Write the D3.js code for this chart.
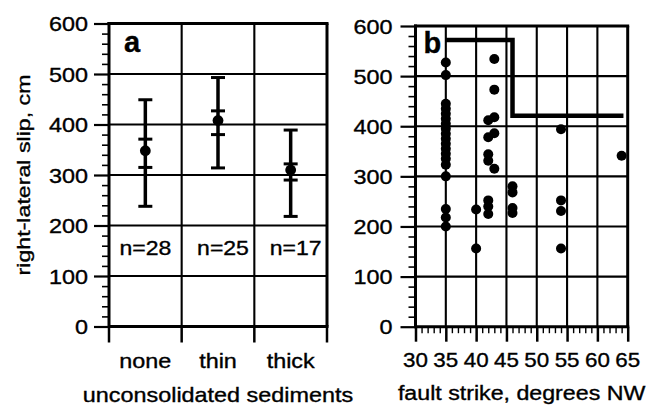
<!DOCTYPE html>
<html>
<head>
<meta charset="utf-8">
<script src="https://cdn.jsdelivr.net/npm/d3@7"></script>
<style>
  body { margin: 0; background: #fff; }
  svg { display: block; background: #fff; }
  text { font-family: "Liberation Sans", Arial, Helvetica, sans-serif; fill: #000; stroke: #000; stroke-width: 0.35px; }
</style>
</head>
<body>
<svg id="chart" width="657" height="407"></svg>
<script>
// ---- Panel a: slip by sediment cover ----
const categories = ["none", "thin", "thick"];
const sampleSizes = [28, 25, 17];
const meanSlip = [348, 408, 310];
const innerLow = [315, 380, 290];
const innerHigh = [371, 427, 322];
const outerLow = [238, 314, 218];
const outerHigh = [449, 493, 389];

// ---- Shared / axis ticks ----
const slipTicks = [0, 100, 200, 300, 400, 500, 600];
const strikeTicks = [30, 35, 40, 45, 50, 55, 60, 65];

// ---- Panel b: slip vs fault strike ----
const strikeValues = [
  35, 35, 35, 35, 35, 35, 35, 35, 35, 35, 35, 35, 35, 35, 35, 35, 35, 35, 35,
  40, 40,
  42, 42, 42, 42, 42, 42, 42,
  43, 43, 43, 43, 43,
  46, 46, 46, 46,
  54, 54, 54, 54,
  64
];
const slipValues = [
  527, 502, 445, 435, 425, 415, 405, 395, 385, 375, 365, 355, 345, 335, 323, 300, 235, 218, 200,
  234, 156,
  412, 378, 344, 331, 252, 240, 225,
  534, 473, 418, 386, 315,
  280, 268, 237, 227,
  394, 252, 231, 156,
  341
];

// upper-bound envelope drawn over the scatter
const envelopeStrike = [35, 46, 46, 64.3];
const envelopeSlip = [572, 572, 421, 421];

const svg = d3.select("#chart");
svg.append("rect").attr("width", 657).attr("height", 407).attr("fill", "#fff");

const FONT = 20;

function addText(parent, x, y, txt, opt = {}) {
  const sx = opt.sx ?? 1.16;
  const rot = opt.rotate ?? 0;
  return parent.append("text")
    .attr("transform", `translate(${x},${y}) rotate(${rot}) scale(${sx},1)`)
    .attr("text-anchor", opt.anchor ?? "middle")
    .style("font-size", (opt.size ?? FONT) + "px")
    .style("font-weight", opt.weight ?? "normal")
    .text(txt);
}

function hline(g, x1, x2, y, w) {
  g.append("line").attr("x1", x1).attr("x2", x2).attr("y1", y).attr("y2", y)
    .attr("stroke", "#000").attr("stroke-width", w);
}
function vline(g, x, y1, y2, w) {
  g.append("line").attr("x1", x).attr("x2", x).attr("y1", y1).attr("y2", y2)
    .attr("stroke", "#000").attr("stroke-width", w);
}

function slipAxis(g, y, left, labelOffset) {
  const minor = d3.range(0, 601, 20).filter(v => v % 100 !== 0);
  const gMinor = g.append("g").attr("transform", `translate(${left},0)`)
    .call(d3.axisLeft(y).tickValues(minor).tickSize(7).tickFormat(""));
  gMinor.select(".domain").remove();
  gMinor.selectAll("line").attr("stroke-width", 1.6);

  const gMajor = g.append("g").attr("transform", `translate(${left},0)`)
    .call(d3.axisLeft(y).tickValues(slipTicks).tickSize(15));
  gMajor.select(".domain").remove();
  gMajor.selectAll("line").attr("stroke-width", 2.2);
  gMajor.selectAll("text")
    .attr("x", -labelOffset / 1.17)
    .attr("dy", "0.36em")
    .attr("transform", "scale(1.17,1)")
    .style("font-size", FONT + "px")
    .style("font-family", '"Liberation Sans", Arial, Helvetica, sans-serif');
}

// ================= Panel a =================
const A = { left: 109, right: 327, top: 23.5, bottom: 326.5 };
const xA = d3.scaleBand().domain(categories).range([A.left, A.right]);
const yA = d3.scaleLinear().domain([0, 600]).range([A.bottom, A.top]);
const gA = svg.append("g");

// grid
slipTicks.filter(v => v > 0 && v < 600).forEach(v => hline(gA, A.left, A.right, yA(v), 2.1));
categories.slice(1).forEach(c => vline(gA, xA(c), A.top, A.bottom, 2.1));

// error bars
const bw = xA.bandwidth();
const capHalf = 7;
categories.forEach((c, i) => {
  const cx = xA(c) + bw / 2;
  vline(gA, cx, yA(outerLow[i]), yA(outerHigh[i]), 3.5);
  [outerLow[i], outerHigh[i], innerLow[i], innerHigh[i]].forEach(v =>
    hline(gA, cx - capHalf, cx + capHalf, yA(v), 3));
  gA.append("circle").attr("cx", cx).attr("cy", yA(meanSlip[i])).attr("r", 5.4).attr("fill", "#000");
  addText(gA, cx + (i === 0 ? 0 : 5), yA(200) + 29, "n=" + sampleSizes[i], { sx: 1.15 });
});

// frame and axes
hline(gA, A.left - 1.5, A.right + 1.5, A.top, 3);
vline(gA, A.right, A.top, A.bottom, 3);
vline(gA, A.left, A.top - 1.5, A.bottom + 1.5, 3);
hline(gA, A.left, A.right + 1.5, A.bottom, 3);
slipAxis(gA, yA, A.left, 21);

// category boundary ticks
const bounds = [A.left].concat(categories.map(c => xA(c) + bw));
bounds.forEach(x => vline(gA, x, A.bottom, A.bottom + 16, 2.5));
categories.forEach(c => addText(gA, xA(c) + bw / 2, 368, c, { sx: 1.17 }));
addText(gA, (A.left + A.right) / 2, 401.5, "unconsolidated sediments", { sx: 1.17 });
addText(gA, A.left + 15, 52, "a", { anchor: "start", size: 29, weight: "bold", sx: 1 });

// y title
addText(svg, 30, (A.top + A.bottom) / 2, "right-lateral slip, cm", { rotate: -90, sx: 1.22, size: 19 });

// ================= Panel b =================
const B = { left: 415.5, right: 627.7, top: 26, bottom: 326.7 };
const xB = d3.scaleLinear().domain([30, 65]).range([B.left, B.right]);
const yB = d3.scaleLinear().domain([0, 600]).range([B.bottom, B.top]);
const gB = svg.append("g");

slipTicks.filter(v => v > 0 && v < 600).forEach(v => hline(gB, B.left, B.right, yB(v), 2.1));
strikeTicks.filter(v => v > 30 && v < 65).forEach(v => vline(gB, xB(v), B.top, B.bottom, 2.1));

// scatter
gB.selectAll("circle.pt").data(strikeValues.map((s, i) => [s, slipValues[i]]))
  .join("circle").attr("class", "pt")
  .attr("cx", d => xB(d[0])).attr("cy", d => yB(d[1])).attr("r", 5)
  .attr("fill", "#000");

// envelope
gB.append("path")
  .attr("d", d3.line().x(d => xB(d[0])).y(d => yB(d[1]))(envelopeStrike.map((s, i) => [s, envelopeSlip[i]])))
  .attr("fill", "none").attr("stroke", "#000").attr("stroke-width", 4.5)
  .attr("stroke-linejoin", "miter");

// frame and axes
hline(gB, B.left - 1.5, B.right + 1.5, B.top, 3);
vline(gB, B.right, B.top, B.bottom, 3);
vline(gB, B.left, B.top - 1.5, B.bottom + 1.5, 3);
hline(gB, B.left, B.right + 1.5, B.bottom, 3);
slipAxis(gB, yB, B.left, 23);

const minorStrike = d3.range(31, 65).filter(v => v % 5 !== 0);
const gxMinor = gB.append("g").attr("transform", `translate(0,${B.bottom})`)
  .call(d3.axisBottom(xB).tickValues(minorStrike).tickSize(6.5).tickFormat(""));
gxMinor.select(".domain").remove();
gxMinor.selectAll("line").attr("stroke-width", 1.4);

const gxMajor = gB.append("g").attr("transform", `translate(0,${B.bottom})`)
  .call(d3.axisBottom(xB).tickValues(strikeTicks).tickSize(15).tickFormat(""));
gxMajor.select(".domain").remove();
gxMajor.selectAll("line").attr("stroke-width", 2.5);

strikeTicks.forEach(v => addText(gB, xB(v), 366.7, String(v), { sx: 1.12 }));
addText(gB, (B.left + B.right) / 2, 400, "fault strike, degrees NW", { sx: 1.16 });
addText(gB, B.left + 8, 53, "b", { anchor: "start", size: 29, weight: "bold", sx: 1 });
</script>
</body>
</html>
